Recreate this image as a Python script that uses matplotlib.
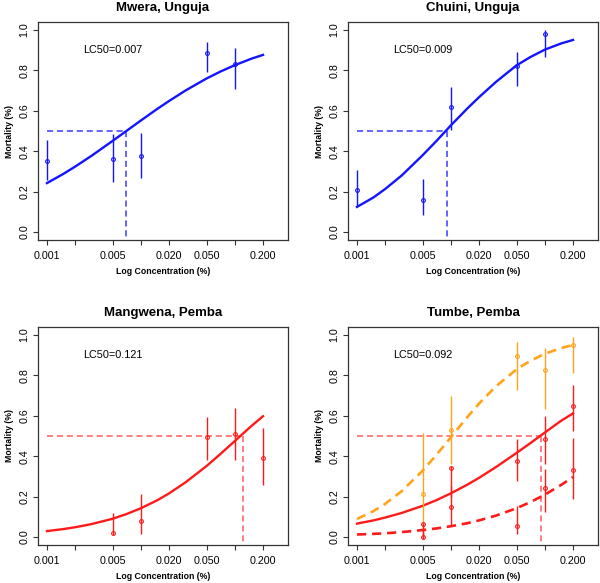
import matplotlib
matplotlib.use('Agg')
import matplotlib.pyplot as plt

plt.rcParams['font.family'] = ['Liberation Sans', 'DejaVu Sans']

# concentrations (%) used in the bioassays
conc_a = [0.001, 0.005, 0.01, 0.05, 0.1]
conc_b = [0.005, 0.01, 0.05, 0.1, 0.2]
curve_x = [0.001, 0.0015, 0.002, 0.003, 0.005, 0.007, 0.01, 0.015,
           0.02, 0.03, 0.05, 0.07, 0.1, 0.15, 0.2]

# Mwera, Unguja
mwera_mort = [0.349, 0.361, 0.376, 0.886, 0.832]
mwera_lo = [0.255, 0.247, 0.267, 0.794, 0.708]
mwera_hi = [0.456, 0.486, 0.490, 0.942, 0.909]
mwera_fit = [0.242, 0.288, 0.324, 0.378, 0.451, 0.500, 0.552, 0.610,
             0.649, 0.701, 0.760, 0.794, 0.826, 0.858, 0.877]
mwera_lc50 = 0.007

# Chuini, Unguja
chuini_mort = [0.206, 0.157, 0.621, 0.820, 0.980]
chuini_lo = [0.127, 0.086, 0.506, 0.722, 0.868]
chuini_hi = [0.305, 0.260, 0.720, 0.890, 1.000]
chuini_fit = [0.124, 0.171, 0.213, 0.280, 0.380, 0.450, 0.528, 0.612,
              0.668, 0.742, 0.825, 0.866, 0.903, 0.934, 0.951]
chuini_lc50 = 0.009

# Mangwena, Pemba
mang_mort = [0.020, 0.077, 0.494, 0.511, 0.390]
mang_lo = [0.008, 0.016, 0.382, 0.379, 0.255]
mang_hi = [0.118, 0.211, 0.596, 0.639, 0.540]
mang_fit = [0.029, 0.039, 0.048, 0.064, 0.090, 0.113, 0.142, 0.182,
            0.216, 0.271, 0.351, 0.410, 0.475, 0.549, 0.598]
mang_lc50 = 0.121

# Tumbe, Pemba (three series)
tumbe_or_mort = [0.214, 0.530, 0.895, 0.829, 0.952]
tumbe_or_lo = [0.033, 0.360, 0.730, 0.634, 0.810]
tumbe_or_hi = [0.514, 0.700, 0.967, 0.936, 0.992]
tumbe_or_fit = [0.089, 0.128, 0.164, 0.227, 0.328, 0.406, 0.494, 0.594,
                0.661, 0.745, 0.830, 0.872, 0.907, 0.936, 0.951]
tumbe_mid_mort = [0.063, 0.341, 0.376, 0.483, 0.651]
tumbe_mid_lo = [0.000, 0.200, 0.277, 0.362, 0.527]
tumbe_mid_hi = [0.068, 0.349, 0.483, 0.601, 0.755]
tumbe_mid_fit = [0.066, 0.082, 0.096, 0.119, 0.154, 0.182, 0.216, 0.259,
                 0.293, 0.345, 0.416, 0.464, 0.517, 0.576, 0.612]
tumbe_low_mort = [0.000, 0.148, 0.056, 0.241, 0.334]
tumbe_low_lo = [-0.010, 0.058, 0.013, 0.124, 0.186]
tumbe_low_hi = [0.030, 0.250, 0.152, 0.338, 0.489]
tumbe_low_fit = [0.012, 0.015, 0.018, 0.024, 0.034, 0.042, 0.053, 0.068,
                 0.082, 0.105, 0.142, 0.172, 0.209, 0.258, 0.297]
tumbe_lc50 = 0.092

xticks = [0.001, 0.002, 0.005, 0.01, 0.02, 0.05, 0.1, 0.2]
xticklabels = ['0.001', '', '0.005', '', '0.020', '0.050', '', '0.200']
yticks = [0.0, 0.2, 0.4, 0.6, 0.8, 1.0]

BLUE = '#1414ff'
RED = '#ff1a1a'
ORANGE = '#ffa31a'


def points(ax, x, m, lo, hi, color):
    ax.vlines(x, lo, hi, color=color, lw=1.0, zorder=3)
    ax.plot(x, m, 'o', ms=2.7, mfc='none', mec=color, mew=0.8, zorder=4)


def fit_line(ax, y, color, dashed=False):
    if dashed:
        ax.plot(curve_x, y, color=color, lw=1.9, dashes=(3.5, 2.2), zorder=2)
    else:
        ax.plot(curve_x, y, color=color, lw=1.7, zorder=2)


def lc50_lines(ax, lc50, color):
    ax.plot([0.001, lc50], [0.5, 0.5], color=color, lw=1.1, dashes=(4, 2.5), zorder=1)
    ax.plot([lc50, lc50], [0.5, -0.1], color=color, lw=1.1, dashes=(4, 2.5), zorder=1)


def setup(ax, title, lc50):
    ax.set_xscale('log')
    ax.set_xlim(0.000802, 0.369)
    ax.set_ylim(-0.04, 1.04)
    ax.set_xticks(xticks)
    ax.set_xticklabels(xticklabels)
    ax.minorticks_off()
    ax.set_yticks(yticks)
    ax.set_yticklabels([f'{v:.1f}' for v in yticks], rotation=90, va='center')
    ax.tick_params(direction='out', length=3.6, width=0.8, labelsize=7.7,
                   color='#333333')
    ax.tick_params(axis='x', pad=4.5)
    ax.tick_params(axis='y', pad=2.5)
    for s in ax.spines.values():
        s.set_color('#333333')
        s.set_linewidth(0.9)
    ax.set_title(title, fontsize=9.5, fontweight='bold', pad=8)
    ax.set_xlabel('Log Concentration (%)', fontsize=6.3, fontweight='bold')
    ax.set_ylabel('Mortality (%)', fontsize=6.3, fontweight='bold')
    ax.xaxis.set_label_coords(0.5, -0.125)
    ax.yaxis.set_label_coords(-0.095, 0.5)
    ax.text(0.005, 0.9, f'LC50={lc50:.3f}', ha='center', va='center', fontsize=7.8)


fig = plt.figure(figsize=(6.0, 5.83), dpi=100)
w, h = 250 / 600, 218 / 583
ax1 = fig.add_axes([38 / 600, (583 - 240) / 583, w, h])
ax2 = fig.add_axes([348 / 600, (583 - 240) / 583, w, h])
ax3 = fig.add_axes([38 / 600, (583 - 545) / 583, w, h])
ax4 = fig.add_axes([348 / 600, (583 - 545) / 583, w, h])

setup(ax1, 'Mwera, Unguja', mwera_lc50)
lc50_lines(ax1, mwera_lc50, '#3a3aff')
fit_line(ax1, mwera_fit, BLUE)
points(ax1, conc_a, mwera_mort, mwera_lo, mwera_hi, BLUE)

setup(ax2, 'Chuini, Unguja', chuini_lc50)
lc50_lines(ax2, chuini_lc50, '#3a3aff')
fit_line(ax2, chuini_fit, BLUE)
points(ax2, conc_a, chuini_mort, chuini_lo, chuini_hi, BLUE)

setup(ax3, 'Mangwena, Pemba', mang_lc50)
lc50_lines(ax3, mang_lc50, '#ff5c5c')
fit_line(ax3, mang_fit, RED)
points(ax3, conc_b, mang_mort, mang_lo, mang_hi, RED)

setup(ax4, 'Tumbe, Pemba', tumbe_lc50)
lc50_lines(ax4, tumbe_lc50, '#ff5c5c')
fit_line(ax4, tumbe_or_fit, ORANGE, dashed=True)
fit_line(ax4, tumbe_mid_fit, RED)
fit_line(ax4, tumbe_low_fit, RED, dashed=True)
points(ax4, conc_b, tumbe_or_mort, tumbe_or_lo, tumbe_or_hi, ORANGE)
points(ax4, conc_b, tumbe_mid_mort, tumbe_mid_lo, tumbe_mid_hi, RED)
points(ax4, conc_b, tumbe_low_mort, tumbe_low_lo, tumbe_low_hi, RED)

fig.savefig('out.png', dpi=100)
